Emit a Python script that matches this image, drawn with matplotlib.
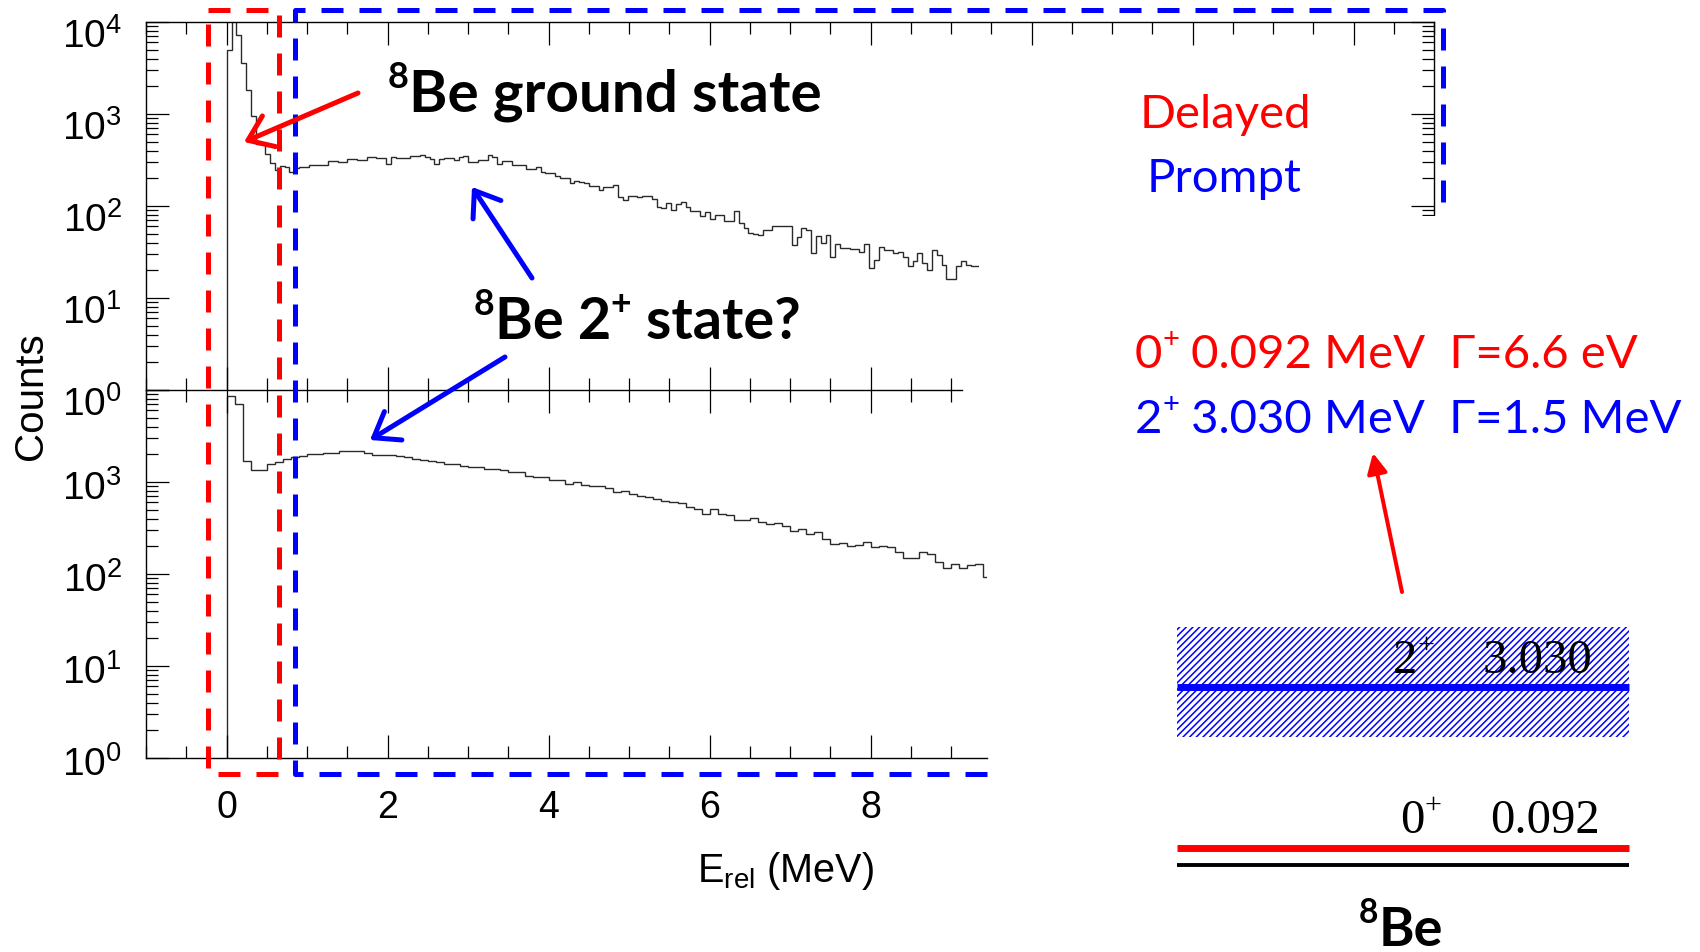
import matplotlib
matplotlib.use("Agg")
import matplotlib.pyplot as plt
import numpy as np
from matplotlib.patches import Rectangle
from matplotlib.ticker import MultipleLocator, LogLocator, NullFormatter, FixedLocator

W, H, DPI = 1700, 952, 100

plt.rcParams['font.family'] = 'Liberation Sans'
plt.rcParams['mathtext.fontset'] = 'custom'
plt.rcParams['mathtext.rm'] = 'Liberation Sans'
plt.rcParams['hatch.linewidth'] = 1.1

# delayed coincidences, 0.06 MeV bins from 0
bin_delayed = 0.06
counts_delayed = [
    5000, 20000, 7200, 3550, 1820, 955, 472, 472, 365, 295,
    245, 272, 263, 236, 257, 263, 263, 279, 282, 282,
    279, 309, 309, 302, 302, 324, 324, 316, 316, 339,
    339, 331, 331, 288, 339, 331, 331, 331, 347, 347,
    358, 339, 324, 288, 324, 331, 331, 316, 343, 347,
    302, 302, 316, 316, 355, 339, 286, 309, 309, 279,
    279, 279, 251, 251, 263, 236, 226, 226, 212, 200,
    204, 176, 187, 182, 176, 166, 166, 149, 160, 160,
    169, 126, 116, 129, 129, 126, 129, 129, 118, 98,
    94, 107, 91, 106, 111, 97, 89, 89, 77, 85,
    72, 79, 79, 68, 68, 89, 65, 57, 51, 50,
    48, 55, 55, 61, 60, 60, 60, 38, 46, 58,
    55, 31, 47, 40, 48, 28, 39, 35, 35, 34,
    34, 32, 39, 21, 26, 36, 33, 33, 31, 32,
    28, 22, 25, 31, 24, 20, 33, 29, 23, 16,
    16, 22, 25, 23, 22, 22,
]

# prompt coincidences, 0.1 MeV bins from 0
bin_prompt = 0.1
counts_prompt = [
    8610, 7050, 1700, 1350, 1350, 1570, 1660, 1780, 1880, 1905,
    2000, 2000, 2090, 2080, 2170, 2170, 2190, 2090, 1980, 1950,
    1950, 1905, 1850, 1780, 1740, 1680, 1640, 1580, 1550, 1510,
    1450, 1470, 1370, 1370, 1350, 1290, 1290, 1160, 1120, 1120,
    1050, 1050, 950, 990, 930, 905, 905, 850, 785, 805,
    735, 710, 680, 660, 615, 610, 595, 530, 515, 450,
    505, 450, 435, 385, 385, 405, 365, 350, 355, 335,
    290, 310, 275, 285, 240, 210, 215, 200, 205, 220,
    195, 200, 195, 175, 150, 150, 175, 165, 136, 117,
    128, 115, 125, 128, 92,
]

decades = [1, 10, 100, 1000, 10000]
decade_labels = [r'$\mathregular{10^{%d}}$' % i for i in range(5)]
energy_ticks = [0, 2, 4, 6, 8]

fig = plt.figure(figsize=(W / DPI, H / DPI), dpi=DPI)


def px_rect(left, top, right, bottom):
    return [left / W, 1 - bottom / H, (right - left) / W, (bottom - top) / H]


def style(ax, xmax, labels, label_drop):
    ax.set_yscale('log')
    ax.set_xlim(-1, xmax)
    ax.set_ylim(1, 1e4)
    ax.xaxis.set_major_locator(MultipleLocator(2))
    ax.xaxis.set_minor_locator(MultipleLocator(0.5))
    ax.yaxis.set_major_locator(FixedLocator(decades))
    ax.yaxis.set_minor_locator(LogLocator(base=10, subs=np.arange(2, 10)))
    ax.yaxis.set_minor_formatter(NullFormatter())
    ax.tick_params(which='both', direction='in', top=True, right=True,
                   width=0.9, color='black', labelleft=False)
    ax.tick_params(which='major', length=16.5)
    ax.tick_params(which='minor', length=8.5)
    ax.tick_params(axis='x', labelsize=27, pad=23)
    for sp in ax.spines.values():
        sp.set_linewidth(1.0)
    # decade labels sit a little below their ticks
    for v, lab in zip(decades, labels):
        if lab:
            ax.annotate(lab, xy=(0, v), xycoords=('axes fraction', 'data'),
                        xytext=(-17.5, -label_drop), textcoords='offset points',
                        ha='right', va='center', fontsize=28,
                        annotation_clip=False)


ax_top = fig.add_axes(px_rect(146.2, 22, 1434.2, 390), zorder=0)
style(ax_top, 15, decade_labels, 11)
edges_d = np.arange(len(counts_delayed) + 1) * bin_delayed
ax_top.stairs(counts_delayed, edges_d, baseline=0.1, color='#2a2a2a', lw=1.0)
ax_top.tick_params(axis='x', labelbottom=False)
ax_top.spines['bottom'].set_bounds(-1, 9.13)

# white panel hiding the right part of the lower frame
fig.add_artist(Rectangle((979 / W, 0), 1 - 979 / W, 1 - 216 / H,
                         transform=fig.transFigure, facecolor='white',
                         edgecolor='none', zorder=1))

ax_bot = fig.add_axes(px_rect(146.2, 390, 987, 758), zorder=2)
ax_bot.patch.set_alpha(0)
style(ax_bot, (987 - 226.7) / 80.5, decade_labels[:4] + [''], 4.7)
edges_p = np.arange(len(counts_prompt) + 1) * bin_prompt
ax_bot.stairs(counts_prompt, edges_p, baseline=0.1, color='#2a2a2a', lw=1.0)
ax_bot.set_xticks(energy_ticks, [str(e) for e in energy_ticks])
ax_bot.xaxis.set_minor_locator(MultipleLocator(0.5))
ax_bot.spines['top'].set_visible(False)
ax_bot.spines['right'].set_visible(False)
ax_bot.tick_params(which='both', right=False)

fig.text(31 / W, 1 - 396 / H, 'Counts', rotation=90, ha='center', va='center',
         fontsize=29)

# overlay in pixel coordinates (y downwards)
ov = fig.add_axes([0, 0, 1, 1], zorder=3)
ov.set_xlim(0, W)
ov.set_ylim(H, 0)
ov.axis('off')

ov.text(697, 882, r'E$_{\mathregular{rel}}$ (MeV)', fontsize=28.5,
        ha='left', va='baseline')


def rich(x, y, pieces, size, **kw):
    prev = None
    for s, up in pieces:
        fs = size * (0.62 if up else 1.0)
        dy = size * (0.42 if up else 0.0)
        if prev is None:
            xy, xyc = (x, y), 'data'
        else:
            xy, xyc = (1, y), (prev, 'data')
        prev = ov.annotate(s, xy=xy, xycoords=xyc, xytext=(0, dy),
                           textcoords='offset points', fontsize=fs,
                           ha='left', va='baseline', annotation_clip=False, **kw)
    return prev


dash = (0, (4.4, 3.2))
ov.plot([208, 279, 279, 208, 208], [10, 10, 774, 774, 10], color='red',
        lw=3.6, ls=dash, dash_capstyle='butt')
ov.plot([987, 295, 295, 1443, 1443], [774, 774, 10, 10, 207], color='blue',
        lw=3.6, ls=dash, dash_capstyle='butt')

open_head = '->,head_length=0.55,head_width=0.4'
ov.annotate('', xy=(244, 142), xytext=(358, 93),
            arrowprops=dict(arrowstyle=open_head, color='red', lw=3.6,
                            shrinkA=0, shrinkB=0, mutation_scale=30))
ov.annotate('', xy=(472, 187), xytext=(532, 278),
            arrowprops=dict(arrowstyle=open_head, color='blue', lw=3.6,
                            shrinkA=0, shrinkB=0, mutation_scale=30))
ov.annotate('', xy=(370, 440), xytext=(505, 357),
            arrowprops=dict(arrowstyle=open_head, color='blue', lw=3.6,
                            shrinkA=0, shrinkB=0, mutation_scale=30))
ov.annotate('', xy=(1373, 453), xytext=(1402, 592),
            arrowprops=dict(arrowstyle='-|>,head_length=0.6,head_width=0.3',
                            color='red', lw=2.9, shrinkA=0, shrinkB=0,
                            mutation_scale=20))

bold = dict(family='Lato', weight='bold', color='black')
rich(388, 112, [('8', True), ('Be ground state', False)], 42, **bold)
rich(474, 339, [('8', True), ('Be 2', False), ('+', True), (' state?', False)],
     41.5, **bold)

ov.text(1140, 128, 'Delayed', fontsize=34, family='Lato', color='red',
        va='baseline', ha='left')
ov.text(1147, 192, 'Prompt', fontsize=34, family='Lato', color='blue',
        va='baseline', ha='left')
rich(1135, 368, [('0', False), ('+', True), (' 0.092 MeV  \u0393=6.6 eV', False)],
     34, family='Lato', color='red')
rich(1135, 433, [('2', False), ('+', True), (' 3.030 MeV  \u0393=1.5 MeV', False)],
     34, family='Lato', color='blue')

# level scheme
ov.add_patch(Rectangle((1177, 627), 452, 110, facecolor='none',
                       edgecolor='blue', hatch='/////', lw=0))
ov.plot([1177, 1629], [687, 687], color='blue', lw=5, solid_capstyle='butt')
ov.plot([1177, 1629], [848, 848], color='red', lw=5, solid_capstyle='butt')
ov.plot([1177, 1629], [865, 865], color='black', lw=2.8, solid_capstyle='butt')
serif = dict(family='Liberation Serif', color='black')
rich(1393, 673, [('2', False), ('+', True)], 35, **serif)
ov.text(1483, 673, '3.030', fontsize=35, va='baseline', ha='left', **serif)
rich(1400, 833, [('0', False), ('+', True)], 35, **serif)
ov.text(1490, 833, '0.092', fontsize=35, va='baseline', ha='left', **serif)
rich(1359, 946, [('8', True), ('Be', False)], 39, **bold)

fig.savefig('out.png', dpi=DPI)
